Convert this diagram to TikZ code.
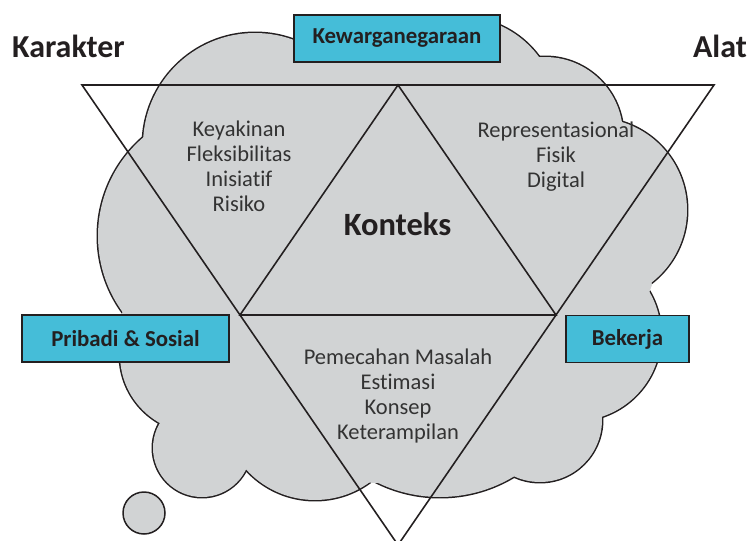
\documentclass[tikz,border=0pt]{standalone}
\usepackage{fontspec}
\setmainfont{Carlito}[RawFeature={-liga}]
\usetikzlibrary{calc}

\definecolor{cloudgray}{HTML}{D1D3D4}
\definecolor{boxcyan}{HTML}{45BDD8}
\definecolor{inkdark}{HTML}{231F20}
\definecolor{textgray}{HTML}{333333}

\tikzset{
  labelbox/.style={draw=inkdark, line width=1.1pt, fill=boxcyan, inner sep=0pt,
    minimum height=0.94cm, text=inkdark, font=\bfseries\fontsize{13}{15}\selectfont},
  bodytext/.style={align=center, text=textgray, font=\fontsize{12.8}{14.2}\selectfont},
  cornertext/.style={anchor=base, text=inkdark, font=\bfseries\fontsize{18.2}{20}\selectfont},
  triline/.style={draw=inkdark, line width=0.9pt, line join=miter}
}

\begin{document}
\begin{tikzpicture}[x=0.02cm, y=-0.02cm]
      \useasboundingbox (0,0) rectangle (751,541);

      % Cloud: outline of every lobe first, then the fill on top
      \foreach \cx/\cy/\r in {255/145/112, 370/110/80, 460/115/98, 545/135/78,
          595/210/92, 575/335/86, 540/420/62, 440/354/143, 315/407/93,
          202/448/49, 198/355/78, 228/236/130}
        \draw[draw=inkdark, line width=1.7pt] (\cx,\cy) circle (\r);
      \fill[cloudgray] (143,138) -- (540,58) -- (620,120) -- (652,285) -- (602,417)
          -- (512,477) -- (373,483) -- (247,466) -- (163,422) -- (122,315) -- cycle;
      \foreach \cx/\cy/\r in {255/145/112, 370/110/80, 460/115/98, 545/135/78,
          595/210/92, 575/335/86, 540/420/62, 440/354/143, 315/407/93,
          202/448/49, 198/355/78, 228/236/130}
        \fill[cloudgray] (\cx,\cy) circle (\r);

      % Small bubble
      \draw[draw=inkdark, line width=0.85pt, fill=cloudgray] (144,513) circle (21);

      % Big triangle, point down
      \coordinate (tl) at (82,85);
      \coordinate (tr) at (714,85);
      \coordinate (bot) at (398,545);
      \draw[triline] (tl) -- (tr) -- (bot) -- cycle;

      % Inner triangle on the midpoints
      \coordinate (top) at ($(tl)!0.5!(tr)$);
      \coordinate (ml) at ($(tl)!0.5!(bot)$);
      \coordinate (mr) at ($(tr)!0.5!(bot)$);
      \draw[triline] (top) -- (ml) -- (mr) -- cycle;

      % Labels
      \node[cornertext] (karakter) at (68.5,57) {Karakter};
      \node[cornertext] (alat) at (720,57) {Alat};
      \node[labelbox, minimum width=4.12cm] (kewarganegaraan) at (397,38.5) {Kewarganegaraan};
      \node[labelbox, minimum width=4.14cm] (pribadi) at (125.5,338.5) {Pribadi \& Sosial};
      \node[labelbox, minimum width=2.46cm] (bekerja) at (627.5,339) {Bekerja};

      % Text in each region
      \node[anchor=base, text=inkdark, font=\bfseries\fontsize{18.5}{20}\selectfont] (konteks) at (397.5,235) {Konteks};
      \node[bodytext] (karakterlist) at (239,166.5) {Keyakinan\\Fleksibilitas\\Inisiatif\\Risiko};
      \node[bodytext] (alatlist) at (556,156.5) {Representasional\\Fisik\\Digital};
      \node[bodytext] (bekerjalist) at (398,396) {Pemecahan Masalah\\Estimasi\\Konsep\\Keterampilan};

  \end{tikzpicture}
\end{document}
